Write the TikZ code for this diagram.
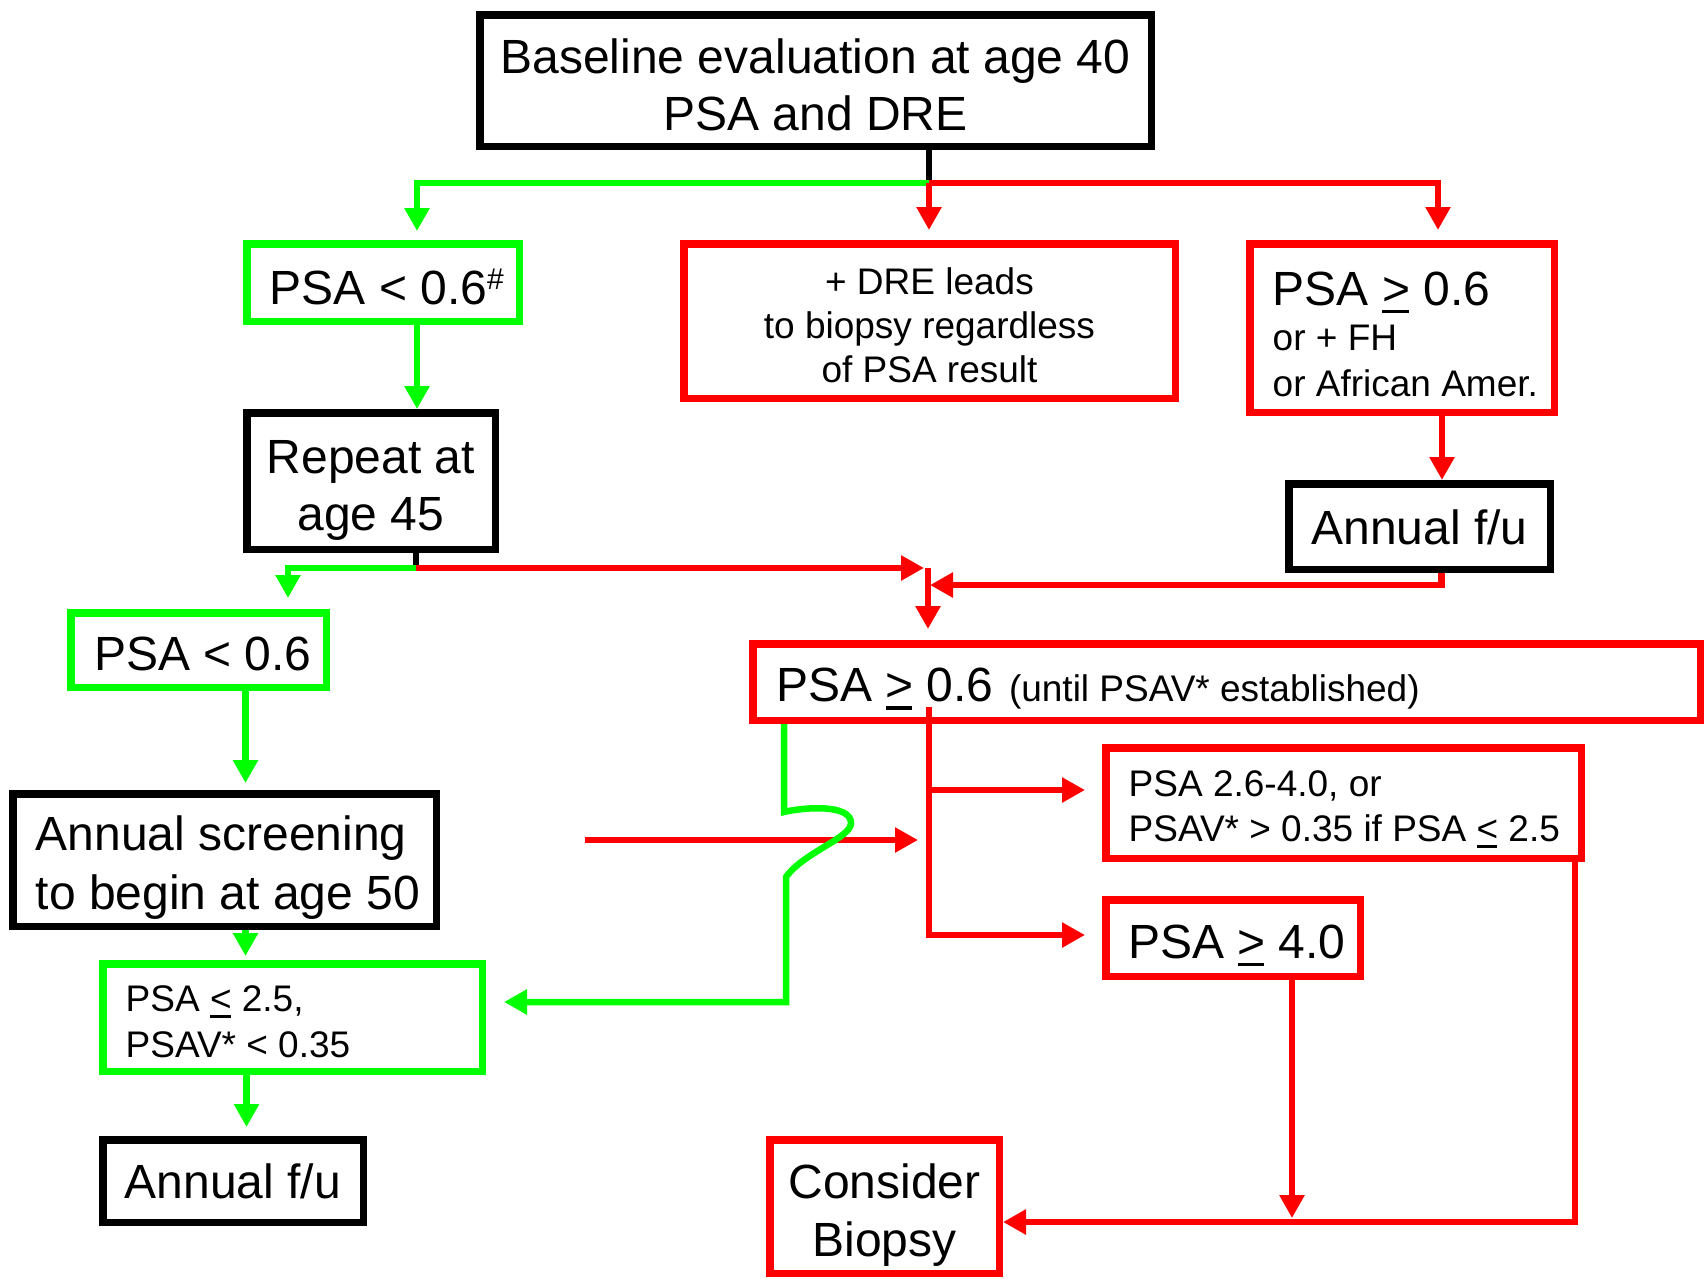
\documentclass[tikz,border=0pt]{standalone}
\usepackage{fontspec}
\setmainfont{Liberation Sans}
\usetikzlibrary{arrows.meta}
\definecolor{pgreen}{RGB}{0,255,0}
\definecolor{pred}{RGB}{255,0,0}
\newcommand\fbig{\fontsize{48}{57}\selectfont}
\newcommand\fsml{\fontsize{37}{45}\selectfont}
\newcommand\uge{\mbox{\rlap{\rule[-0.17em]{0.56em}{0.07em}}>}}
\newcommand\ule{\mbox{\rlap{\rule[-0.17em]{0.56em}{0.07em}}<}}
\tikzset{
  box/.style={draw, line width=7.5pt, rectangle, inner sep=0pt},
  gbox/.style={draw=pgreen},
  rbox/.style={draw=pred},
  kbox/.style={draw=black},
  txt/.style={inner sep=0pt, align=center},
  ltxt/.style={inner sep=0pt, align=left, anchor=west},
  conn/.style={line width=6.5pt},
  arr/.style={conn, -{Triangle[width=24pt,length=23pt]}},
  gc/.style={draw=pgreen},
  rc/.style={draw=pred}
}
\begin{document}
\begin{tikzpicture}[x=1pt,y=-1pt]
\useasboundingbox (0,0) rectangle (1705,1278);

% boxes
\node[box,kbox,minimum width=671.5pt,minimum height=131.5pt] (topb) at (815.5,80.5) {};
\node[box,gbox,minimum width=272.5pt,minimum height=77.5pt] (a1) at (383,282.5) {};
\node[box,kbox,minimum width=248.5pt,minimum height=136.5pt] (rep) at (371,481) {};
\node[box,rbox,minimum width=491.5pt,minimum height=154.5pt] (dre) at (929.5,321) {};
\node[box,rbox,minimum width=304.5pt,minimum height=168.5pt] (a2) at (1402,328) {};
\node[box,kbox,minimum width=261.5pt,minimum height=85.5pt] (ar) at (1419.5,526.5) {};
\node[box,gbox,minimum width=255.5pt,minimum height=74.5pt] (b1) at (198.5,650) {};
\node[box,kbox,minimum width=423.5pt,minimum height=132.5pt] (scr) at (224.5,860) {};
\node[box,gbox,minimum width=379.5pt,minimum height=107.5pt] (b2) at (292.5,1017.5) {};
\node[box,kbox,minimum width=260.5pt,minimum height=82.5pt] (al) at (233,1181) {};
\node[box,rbox,minimum width=947.5pt,minimum height=76.5pt] (un) at (1226.5,682) {};
\node[box,rbox,minimum width=475.5pt,minimum height=110.5pt] (c1) at (1343.5,803) {};
\node[box,rbox,minimum width=254.5pt,minimum height=76.5pt] (c2) at (1233,938) {};
\node[box,rbox,minimum width=229.5pt,minimum height=133.5pt] (bx) at (884.5,1206.5) {};

% texts
\node[txt,font=\fbig] (t-top) at ([yshift=-4.5pt]topb.center) {Baseline evaluation at age 40\\PSA and DRE};
\node[ltxt,font=\fbig] (t-a1) at ([xshift=26.5pt,yshift=-4.5pt]a1.west) {PSA < 0.6\raisebox{0.3em}{\fontsize{30}{30}\selectfont\#}};
\node[txt,font=\fbig] (t-rep) at ([yshift=-9pt]rep.center) {Repeat at\\age 45};
\node[txt,font=\fontsize{37}{44}\selectfont] (t-dre) at ([yshift=-4pt]dre.center) {+ DRE leads\\to biopsy regardless\\of PSA result};
\node[ltxt,font=\fontsize{37}{45.5}\selectfont] (t-a2) at ([xshift=26.5pt,yshift=-6pt]a2.west) {{\fbig PSA \uge{} 0.6}\\or + FH\\or African Amer.};
\node[txt,font=\fbig] (t-ar) at ([yshift=-1pt]ar.center) {Annual f/u};
\node[ltxt,font=\fbig] (t-b1) at ([xshift=27pt,yshift=-4pt]b1.west) {PSA < 0.6};
\node[ltxt,font=\fontsize{48}{59}\selectfont] (t-scr) at ([xshift=26.5pt,yshift=-8pt]scr.west) {Annual screening\\to begin at age 50};
\node[ltxt,font=\fontsize{37}{46}\selectfont] (t-b2) at ([xshift=26.5pt,yshift=-4.5pt]b2.west) {PSA \ule{} 2.5,\\PSAV* < 0.35};
\node[txt,font=\fbig] (t-al) at (al.center) {Annual f/u};
\node[ltxt,font=\fbig] (t-un) at ([xshift=27pt,yshift=-7pt]un.west) {PSA \uge{} 0.6\hspace{2pt} {\fsml (until PSAV* established)}};
\node[ltxt,font=\fontsize{37}{45}\selectfont] (t-c1) at ([xshift=26.5pt,yshift=-6.5pt]c1.west) {PSA 2.6-4.0, or\\PSAV* > 0.35 if PSA \ule{} 2.5};
\node[ltxt,font=\fbig] (t-c2) at ([xshift=26pt,yshift=-7.5pt]c2.west) {PSA \uge{} 4.0};
\node[txt,font=\fontsize{48}{58}\selectfont] (t-bx) at ([yshift=-9pt]bx.center) {Consider\\Biopsy};

% junction coordinates
\coordinate (j1) at (929,183);
\coordinate (j2) at (416,568);
\coordinate (j3) at (928,568);
\coordinate (j4) at (930,585);
\coordinate (rl) at (585,840);
\coordinate (rlend) at (918,840);
\coordinate (v0) at (929,707);
\coordinate (v1) at (929,790);
\coordinate (v2) at (929,935);
\coordinate (hb) at (1292,1218);
\coordinate (rr) at (1575,1222);
\coordinate (g1) at (784,812);
\coordinate (g2) at (786,877);
\coordinate (g3) at (786,1002);

% top split
\draw[conn] (topb.south -| j1) -- (j1);
\draw[arr,gc,shorten >=9pt] (j1) -| ([xshift=34pt]a1.north);
\draw[arr,rc,shorten >=10pt] (j1) -| ([xshift=36pt]a2.north);
\draw[arr,rc,shorten >=10pt] (j1) -- (j1 |- dre.north);

% left column
\draw[arr,gc] ([xshift=34pt]a1.south) -- ([xshift=34pt]a1.south |- rep.north);
\draw[conn] (rep.south -| j2) -- (j2);
\draw[arr,gc,shorten >=11pt] (j2) -| ([xshift=89.5pt]b1.north);
\draw[arr,gc,shorten >=7pt] ([xshift=47pt]b1.south) -- ([xshift=47pt]b1.south |- scr.north);
\draw[arr,gc,shorten >=4pt] ([xshift=21pt]scr.south) -- ([xshift=21pt]scr.south |- b2.north);
\draw[arr,gc,shorten >=9pt] ([xshift=-46pt]b2.south) -- ([xshift=-46pt]b2.south |- al.north);

% right column
\draw[arr,rc] ([xshift=40pt]a2.south) -- ([xshift=40pt]a2.south |- ar.north);
\draw[arr,rc,shorten >=4pt] (j2) -- (j3);
\draw[arr,rc,shorten >=11pt] (j3) -- (j3 |- un.north);
\draw[arr,rc] ([xshift=22pt]ar.south) |- (j4);

% lower red
\draw[arr,rc] (rl) -- (rlend);
\draw[arr,rc,shorten >=17pt] (v0) -- (v2) -- (v2 -| c2.west);
\draw[arr,rc,shorten >=17pt] (v1) -- (v1 -| c1.west);
\draw[arr,rc] (c2.south -| hb) -- (hb);
\draw[arr,rc] (c1.south -| rr) -- (rr) -- (rr -| bx.east);

% green squiggle
\draw[arr,gc,shorten >=18pt] ([xshift=-442.5pt]un.south) -- (g1)
  .. controls (805,807) and (851,804) .. (851,823)
  .. controls (851,838) and (804,852) .. (g2) -- (g3) -- (g3 -| b2.east);
\end{tikzpicture}
\end{document}
